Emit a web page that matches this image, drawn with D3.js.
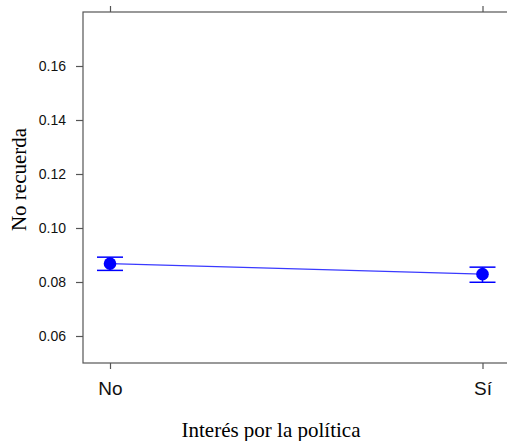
<!DOCTYPE html>
<html><head><meta charset="utf-8">
<script src="https://cdn.jsdelivr.net/npm/d3@7"></script>
<style>body{margin:0;background:#fff}svg{display:block}</style>
</head><body>
<svg id="c" width="507" height="441"></svg>
<script>
const categories = ["No", "Sí"];
const fitValues = [0.0868, 0.0829];
const lowerValues = [0.0843, 0.0799];
const upperValues = [0.0892, 0.0855];
const yTicks = [0.06, 0.08, 0.10, 0.12, 0.14, 0.16];

const svg = d3.select("#c");
const L = 83, T = 12, R = 510, B = 363;
const x = d3.scalePoint().domain(categories).range([110, 482.5]);
const y = d3.scaleLinear().domain([0.05, 0.18]).range([B, T]);
const axisColor = "#555";
const sans = "'Liberation Sans', Arial, sans-serif";
const serif = "'Liberation Serif', 'Times New Roman', serif";

svg.append("rect").attr("x", L).attr("y", T).attr("width", R - L).attr("height", B - T)
  .attr("fill", "none").attr("stroke", axisColor).attr("stroke-width", 1.2);

const ya = svg.append("g").attr("transform", `translate(${L},0)`)
  .call(d3.axisLeft(y).tickValues(yTicks).tickSize(7).tickPadding(10).tickFormat(d3.format(".2f")));
ya.select(".domain").remove();
ya.selectAll("line").attr("stroke", axisColor).attr("stroke-width", 1.2);
ya.selectAll("text").style("font-family", sans).attr("font-size", 14).attr("fill", "#111");

const xa = svg.append("g").attr("transform", `translate(0,${B})`)
  .call(d3.axisBottom(x).tickSize(6).tickPadding(13));
xa.select(".domain").remove();
xa.selectAll("line").attr("stroke", axisColor).attr("stroke-width", 1.2);
xa.selectAll("text").style("font-family", sans).attr("font-size", 19).attr("fill", "#111");

const xt = svg.append("g").attr("transform", `translate(0,${T})`)
  .call(d3.axisTop(x).tickSize(6).tickFormat(""));
xt.select(".domain").remove();
xt.selectAll("line").attr("stroke", axisColor).attr("stroke-width", 1.2);

svg.append("path")
  .attr("d", d3.line().x((d, i) => x(categories[i])).y(d => y(d))(fitValues))
  .attr("fill", "none").attr("stroke", "#3a3aff").attr("stroke-width", 1.2);

const half = 13;
categories.forEach((c, i) => {
  const g = svg.append("g").attr("stroke", "#0000ff").attr("stroke-width", 1.5);
  g.append("line").attr("x1", x(c)).attr("x2", x(c)).attr("y1", y(lowerValues[i])).attr("y2", y(upperValues[i]));
  g.append("line").attr("x1", x(c) - half).attr("x2", x(c) + half).attr("y1", y(lowerValues[i])).attr("y2", y(lowerValues[i]));
  g.append("line").attr("x1", x(c) - half).attr("x2", x(c) + half).attr("y1", y(upperValues[i])).attr("y2", y(upperValues[i]));
  svg.append("circle").attr("cx", x(c)).attr("cy", y(fitValues[i])).attr("r", 6.3).attr("fill", "#0000ff");
});

svg.append("text").attr("x", 271).attr("y", 437).attr("text-anchor", "middle")
  .style("font-family", serif).attr("font-size", 21).attr("fill", "#000")
  .text("Interés por la política");
svg.append("text").attr("transform", `translate(26,${(T + B) / 2 - 8}) rotate(-90)`).attr("text-anchor", "middle")
  .style("font-family", serif).attr("font-size", 21).attr("fill", "#000")
  .text("No recuerda");
</script>
</body></html>
